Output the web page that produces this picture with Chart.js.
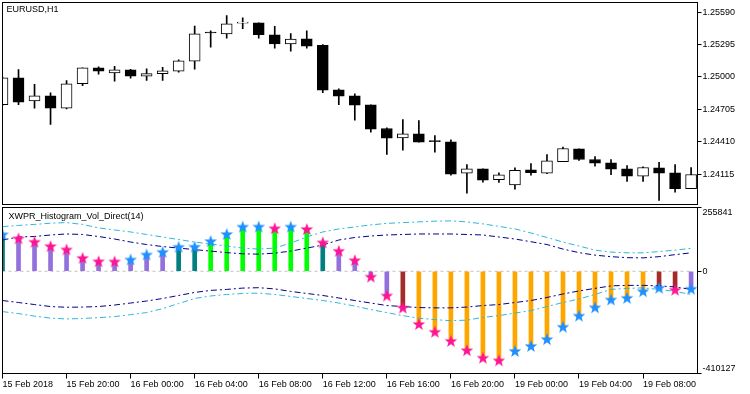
<!DOCTYPE html>
<html lang="en">
<head>
<meta charset="UTF-8">
<title>EURUSD,H1 - XWPR_Histogram_Vol_Direct(14)</title>
<script src="https://cdn.jsdelivr.net/npm/chart.js"></script>
<style>
    body { margin: 0; background: #fff; }
    .wrap { position: relative; width: 750px; height: 394px; }
    #priceBox { position: absolute; left: 0; top: 0; width: 750px; height: 206px; }
    #histBox { position: absolute; left: 0; top: 206px; width: 750px; height: 188px; }
</style>
</head>
<body>
<div class="wrap">
    <div id="priceBox"><canvas id="priceChart"></canvas></div>
    <div id="histBox"><canvas id="histChart"></canvas></div>
</div>
<script>
// hourly bars, 15 Feb 16:00 .. 19 Feb 11:00
const barTimes = [
    '15 Feb 16:00', '15 Feb 17:00', '15 Feb 18:00', '15 Feb 19:00', '15 Feb 20:00', '15 Feb 21:00', '15 Feb 22:00', '15 Feb 23:00',
    '16 Feb 00:00', '16 Feb 01:00', '16 Feb 02:00', '16 Feb 03:00', '16 Feb 04:00', '16 Feb 05:00', '16 Feb 06:00', '16 Feb 07:00',
    '16 Feb 08:00', '16 Feb 09:00', '16 Feb 10:00', '16 Feb 11:00', '16 Feb 12:00', '16 Feb 13:00', '16 Feb 14:00', '16 Feb 15:00',
    '16 Feb 16:00', '16 Feb 17:00', '16 Feb 18:00', '16 Feb 19:00', '16 Feb 20:00', '16 Feb 21:00', '16 Feb 22:00', '16 Feb 23:00',
    '19 Feb 00:00', '19 Feb 01:00', '19 Feb 02:00', '19 Feb 03:00', '19 Feb 04:00', '19 Feb 05:00', '19 Feb 06:00', '19 Feb 07:00',
    '19 Feb 08:00', '19 Feb 09:00', '19 Feb 10:00', '19 Feb 11:00'
];
const tickLabels = ['15 Feb 2018', '15 Feb 20:00', '16 Feb 00:00', '16 Feb 04:00', '16 Feb 08:00', '16 Feb 12:00',
    '16 Feb 16:00', '16 Feb 20:00', '19 Feb 00:00', '19 Feb 04:00', '19 Feb 08:00'];
const barsPerTick = 4;

const opens = [1.24747, 1.24993, 1.24783, 1.24829, 1.24716, 1.24938, 1.25084, 1.25038, 1.25066, 1.25007, 1.25029,
    1.25053, 1.25144, 1.25402, 1.25393, 1.25490, 1.25493, 1.25384, 1.25302, 1.25348, 1.25287, 1.24883,
    1.24829, 1.24747, 1.24531, 1.24446, 1.24483, 1.24413, 1.24410, 1.24124, 1.24164, 1.24064, 1.24018,
    1.24155, 1.24124, 1.24228, 1.24346, 1.24249, 1.24219, 1.24164, 1.24097, 1.24173, 1.24128, 1.23982];
const highs = [1.25000, 1.25068, 1.24932, 1.24856, 1.24968, 1.25084, 1.25093, 1.25096, 1.25070, 1.25075, 1.25087,
    1.25157, 1.25463, 1.25421, 1.25560, 1.25539, 1.25493, 1.25460, 1.25396, 1.25421, 1.25296, 1.24893,
    1.24847, 1.24747, 1.24537, 1.24613, 1.24604, 1.24467, 1.24428, 1.24203, 1.24164, 1.24128, 1.24173,
    1.24212, 1.24294, 1.24361, 1.24346, 1.24276, 1.24249, 1.24194, 1.24182, 1.24222, 1.24203, 1.24176];
const lows = [1.24740, 1.24747, 1.24716, 1.24568, 1.24710, 1.24920, 1.25025, 1.24962, 1.24989, 1.24968, 1.24968,
    1.25044, 1.25071, 1.25271, 1.25353, 1.25439, 1.25353, 1.25262, 1.25235, 1.25262, 1.24856, 1.24747,
    1.24607, 1.24497, 1.24294, 1.24334, 1.24406, 1.24315, 1.24106, 1.23942, 1.24042, 1.24039, 1.23978,
    1.24106, 1.24119, 1.24228, 1.24240, 1.24188, 1.24110, 1.24049, 1.24049, 1.23876, 1.23951, 1.23982];
const closes = [1.24993, 1.24771, 1.24829, 1.24716, 1.24938, 1.25084, 1.25053, 1.25066, 1.25007, 1.25032, 1.25056,
    1.25148, 1.25393, 1.25400, 1.25484, 1.25491, 1.25384, 1.25302, 1.25344, 1.25280, 1.24880, 1.24825,
    1.24743, 1.24525, 1.24443, 1.24483, 1.24406, 1.24411, 1.24115, 1.24164, 1.24060, 1.24110, 1.24151,
    1.24128, 1.24237, 1.24349, 1.24249, 1.24215, 1.24161, 1.24097, 1.24176, 1.24124, 1.23982, 1.24112];
const priceTicks = [1.24115, 1.24410, 1.24705, 1.25000, 1.25295, 1.25590];

// XWPR * volume histogram and its levels
const histValues = [148400, 132200, 118500, 101100, 87800, 53800, 40400, 39500, 47300, 67500, 78000,
    98300, 98800, 121300, 149600, 179200, 179600, 172700, 179200, 169800, 116100, 82100,
    44500, -21400, -97100, -145500, -211500, -242600, -279000, -316600, -346600, -357100, -319500,
    -299300, -272200, -222400, -177900, -144400, -113200, -106400, -79700, -65900, -74000, -70000];
const upperOuter = [179100, 184000, 188000, 192900, 195300, 188000, 173900, 165800, 157700, 147600, 137500,
    127400, 117300, 109200, 101100, 93000, 89000, 93000, 113200, 137500, 157700, 169800,
    177900, 186000, 192100, 195300, 198200, 201000, 202200, 198200, 190100, 180000, 169800,
    153700, 135500, 117300, 101100, 84900, 76800, 74000, 74000, 78900, 84900, 91800];
const upperInner = [125400, 137500, 139500, 145600, 149600, 147600, 139500, 129400, 117300, 107200, 99100,
    93000, 86900, 80900, 74800, 70000, 68700, 72800, 80900, 93000, 105100, 125400,
    135500, 141500, 145600, 147600, 149600, 149600, 149600, 147600, 145600, 137500, 129400,
    118500, 107200, 89000, 74800, 64700, 58600, 54600, 53800, 58600, 66700, 74000];
const lowerInner = [-117300, -125400, -133500, -141500, -144400, -143600, -141500, -135500, -127400, -119300, -109200,
    -97100, -84900, -76800, -72800, -67500, -65900, -70800, -80900, -89000, -97100, -107200,
    -117300, -127400, -137500, -141500, -145600, -146800, -146800, -143600, -137500, -133500, -125400,
    -117300, -105100, -91000, -78900, -68700, -58600, -56600, -56600, -58600, -62700, -72800];
const lowerOuter = [-161800, -169800, -180000, -188000, -191300, -189300, -186000, -182000, -173900, -165800, -149600,
    -129400, -109200, -99100, -93000, -89000, -87800, -93000, -101100, -109200, -117300, -127400,
    -139500, -153700, -165800, -177900, -188000, -194100, -198200, -196100, -184800, -177900, -167800,
    -157700, -141500, -125400, -111200, -93000, -72800, -68700, -66700, -72800, -80900, -93000];
const histTicks = [-410127, 0, 255841];

const FONT = { family: '"Liberation Sans", Arial, sans-serif', size: 9 };
Chart.defaults.font = FONT;
Chart.defaults.color = '#000';

const X_MAX = 43.4;

// filled five point star used as arrow symbol
function makeStar(color) {
    const c = document.createElement('canvas');
    c.width = 14; c.height = 14;
    const g = c.getContext('2d');
    g.fillStyle = color;
    g.beginPath();
    for (let k = 0; k < 10; k++) {
        const r = k % 2 ? 2.7 : 6.6;
        const a = -Math.PI / 2 + k * Math.PI / 5;
        g.lineTo(7 + r * Math.cos(a), 7.6 + r * Math.sin(a));
    }
    g.closePath();
    g.fill();
    return c;
}
const starUp = makeStar('#1E90FF');
const starDown = makeStar('#FF1493');

function histColor(i) {
    const v = histValues[i];
    if (v >= upperOuter[i]) return '#00FF00';
    if (v >= upperInner[i]) return '#008080';
    if (v <= lowerOuter[i]) return '#FFA500';
    if (v <= lowerInner[i]) return '#A52A2A';
    return '#9370DB';
}

// frame around a pane plus its caption
function paneFrame(caption, dx, dy) {
    return {
        id: 'paneFrame',
        afterDraw(chart) {
            const { ctx, chartArea: a } = chart;
            ctx.save();
            ctx.strokeStyle = '#000';
            ctx.lineWidth = 1;
            ctx.strokeRect(a.left, a.top, a.right - a.left, a.bottom - a.top);
            ctx.fillStyle = '#000';
            ctx.font = '9px "Liberation Sans", Arial, sans-serif';
            ctx.textBaseline = 'middle';
            ctx.fillText(caption, a.left + dx, a.top + dy);
            ctx.restore();
        }
    };
}

// keep the plot box fixed: no extra room for overhanging labels
function noPad(s) {
    s.paddingTop = 0; s.paddingBottom = 0; s.paddingLeft = 0; s.paddingRight = 0;
}

const idx = barTimes.map((t, i) => i);

// top pane: candles as floating bars (bodies over wicks)
new Chart(document.getElementById('priceChart'), {
    type: 'bar',
    data: {
        datasets: [
            {
                label: 'Body',
                data: idx.map(i => ({ x: i, y: [opens[i], closes[i]] })),
                backgroundColor: idx.map(i => closes[i] >= opens[i] ? '#fff' : '#000'),
                borderColor: '#000',
                borderWidth: 1,
                borderSkipped: false,
                barThickness: 11,
                minBarLength: 1,
                grouped: false,
                order: 0,
                clip: 0
            },
            {
                label: 'Wick',
                data: idx.map(i => ({ x: i, y: [lows[i], highs[i]] })),
                backgroundColor: '#000',
                borderWidth: 0,
                barThickness: 1,
                grouped: false,
                order: 1,
                clip: 0
            }
        ]
    },
    options: {
        responsive: true,
        maintainAspectRatio: false,
        animation: false,
        events: [],
        layout: { autoPadding: false, padding: { left: 2.5, top: 2.5, right: 0, bottom: 1.5 } },
        plugins: { legend: { display: false }, tooltip: { enabled: false } },
        scales: {
            x: { type: 'linear', offset: false, min: 0, max: X_MAX, display: false },
            y: {
                position: 'right',
                min: 1.23839,
                max: 1.25678,
                afterFit: s => { s.width = 52.5; noPad(s); },
                afterBuildTicks: s => { s.ticks = priceTicks.map(v => ({ value: v })); },
                ticks: { callback: v => v.toFixed(5), padding: 1, color: '#000' },
                grid: { drawOnChartArea: false, color: '#000', tickLength: 4 },
                border: { color: '#000' }
            }
        }
    },
    plugins: [paneFrame('EURUSD,H1', 4, 7.5)]
});

// bottom pane: histogram, levels, direction stars
new Chart(document.getElementById('histChart'), {
    type: 'bar',
    data: {
        datasets: [
            {
                type: 'line',
                label: 'Direction',
                data: idx.map(i => ({ x: i, y: histValues[i] })),
                showLine: false,
                pointStyle: idx.map(i => (i === 0 || histValues[i] > histValues[i - 1]) ? starUp : starDown),
                pointRadius: 6,
                order: 0,
                clip: 0
            },
            {
                type: 'line', label: 'Upper outer', data: idx.map(i => ({ x: i, y: upperOuter[i] })),
                borderColor: '#2CB8DA', borderWidth: 1, borderDash: [6, 3, 2, 3], pointRadius: 0, order: 1
            },
            {
                type: 'line', label: 'Upper inner', data: idx.map(i => ({ x: i, y: upperInner[i] })),
                borderColor: '#00008B', borderWidth: 1, borderDash: [6, 3, 2, 3], pointRadius: 0, order: 1
            },
            {
                type: 'line', label: 'Lower inner', data: idx.map(i => ({ x: i, y: lowerInner[i] })),
                borderColor: '#00008B', borderWidth: 1, borderDash: [6, 3, 2, 3], pointRadius: 0, order: 1
            },
            {
                type: 'line', label: 'Lower outer', data: idx.map(i => ({ x: i, y: lowerOuter[i] })),
                borderColor: '#2CB8DA', borderWidth: 1, borderDash: [6, 3, 2, 3], pointRadius: 0, order: 1
            },
            {
                type: 'bar',
                label: 'XWPR_Histogram_Vol_Direct',
                data: idx.map(i => ({ x: i, y: histValues[i] })),
                backgroundColor: idx.map(histColor),
                borderWidth: 0,
                barThickness: 4,
                grouped: false,
                order: 2,
                clip: 0
            },
            {
                type: 'line', label: 'Zero', data: idx.map(i => ({ x: i, y: 0 })),
                borderColor: '#C0C0C0', borderWidth: 1, borderDash: [3, 3], pointRadius: 0, order: 3
            }
        ]
    },
    options: {
        responsive: true,
        maintainAspectRatio: false,
        animation: false,
        events: [],
        layout: { autoPadding: false, padding: { left: 2.5, top: 1.5, right: 0, bottom: 0 } },
        plugins: { legend: { display: false }, tooltip: { enabled: false } },
        scales: {
            x: {
                type: 'linear',
                offset: false,
                min: 0,
                max: X_MAX,
                afterFit: s => { s.height = 20.5; noPad(s); },
                afterBuildTicks: s => { s.ticks = tickLabels.map((t, k) => ({ value: k * barsPerTick })); },
                ticks: {
                    callback: v => tickLabels[v / barsPerTick],
                    align: 'start',
                    maxRotation: 0,
                    autoSkip: false,
                    padding: 1,
                    color: '#000'
                },
                grid: { drawOnChartArea: false, offset: false, color: '#000', tickLength: 5 },
                border: { color: '#000' }
            },
            y: {
                position: 'right',
                min: histTicks[0],
                max: histTicks[histTicks.length - 1],
                afterFit: s => { s.width = 52.5; noPad(s); },
                afterBuildTicks: s => { s.ticks = histTicks.map(v => ({ value: v })); },
                ticks: {
                    // extreme labels sit inside the pane, like the terminal does
                    callback: v => v === histTicks[histTicks.length - 1] ? ['', String(v)]
                        : v === histTicks[0] ? [String(v), ''] : String(v),
                    padding: 1,
                    color: '#000'
                },
                grid: { drawOnChartArea: false, color: '#000', tickLength: 4 },
                border: { color: '#000' }
            }
        }
    },
    plugins: [paneFrame('XWPR_Histogram_Vol_Direct(14)', 6, 9.5)]
});
</script>
</body>
</html>
